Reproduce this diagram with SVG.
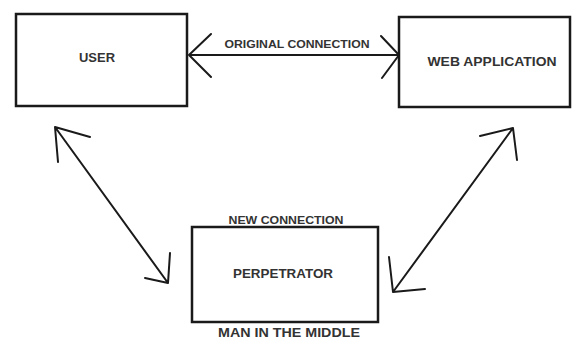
<svg xmlns="http://www.w3.org/2000/svg" width="573" height="342" viewBox="0 0 573 342">
<style>
.box{fill:#fff;stroke:#1a1a1a;stroke-width:2.5}
.ln{fill:none;stroke:#1a1a1a;stroke-width:2;stroke-linecap:round;stroke-linejoin:round}
.t{font-family:"Liberation Sans",Arial,sans-serif;font-weight:bold;font-size:13px;fill:#333;text-anchor:middle}
.s{font-size:11.5px}
</style>
<rect width="573" height="342" fill="#fff"/>
<g id="user"><rect class="box" x="16" y="14" width="171" height="92"/><text class="t" x="97" y="62" textLength="36" lengthAdjust="spacingAndGlyphs">USER</text></g>
<g id="webapp"><rect class="box" x="399" y="17" width="171" height="90"/><text class="t" x="492" y="66" textLength="129" lengthAdjust="spacingAndGlyphs">WEB APPLICATION</text></g>
<g id="perpetrator"><rect class="box" x="192" y="227" width="186" height="95"/><text class="t" x="283" y="278" textLength="100" lengthAdjust="spacingAndGlyphs">PERPETRATOR</text></g>
<g id="labels">
<text class="t s" x="297" y="48" textLength="145" lengthAdjust="spacingAndGlyphs">ORIGINAL CONNECTION</text>
<text class="t s" x="286" y="224" textLength="115" lengthAdjust="spacingAndGlyphs">NEW CONNECTION</text>
<text class="t" x="289" y="337" textLength="142" lengthAdjust="spacingAndGlyphs">MAN IN THE MIDDLE</text>
</g>
<g id="connectors">
<path class="ln" d="M189 55 L399 55 M211 34 L189 55 L211 77 M381 36 L399 55 L382 78"/>
<path class="ln" d="M55 127 L168 283 M90 137 L55 127 L58 162 M145 278 L168 283 L170 253"/>
<path class="ln" d="M513 128 L393 292 M480 136 L513 128 L517 160 M389 257 L393 292 L425 289"/>
</g>
</svg>
